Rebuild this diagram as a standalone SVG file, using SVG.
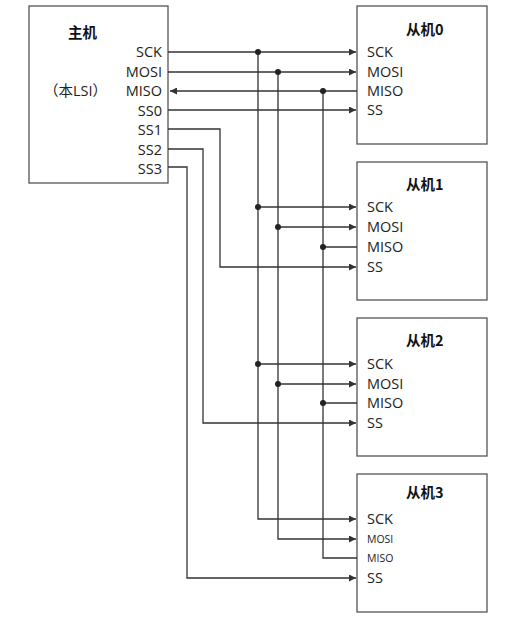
<svg xmlns="http://www.w3.org/2000/svg" width="511" height="622" viewBox="0 0 511 622">
<defs>
<marker id="ah" viewBox="0 0 10 10" refX="10" refY="5" markerWidth="8" markerHeight="7" markerUnits="userSpaceOnUse" orient="auto">
<path d="M0,0 L10,5 L0,10 z" fill="#333"/>
</marker>
</defs>
<style>
.box{fill:#fff;stroke:#555;stroke-width:1.3}
.t{font-family:"Open Sans","Noto Sans","Noto Sans CJK SC",sans-serif;font-size:14.5px;fill:#222}
.s{font-size:10.5px}
.ti{font-family:"Noto Sans CJK SC","Noto Sans",sans-serif;font-size:14.5px;font-weight:bold;fill:#111}
.w{fill:none;stroke:#333;stroke-width:1.3}
.d{fill:#222}
</style>
<rect width="511" height="622" fill="#fff"/>
<g id="master">
<rect class="box" x="29" y="6" width="139" height="177"/>
<text class="ti" x="68" y="38">主机</text>
<text class="t" x="44" y="96" font-family="Noto Sans CJK SC" font-size="14">（本LSI）</text>
<g class="t" text-anchor="end">
<text x="162" y="57">SCK</text>
<text x="162" y="77">MOSI</text>
<text x="162" y="96">MISO</text>
<text x="162" y="116">SS0</text>
<text x="162" y="135">SS1</text>
<text x="162" y="155">SS2</text>
<text x="162" y="174">SS3</text>
</g>
</g>
<g id="slave0">
<rect class="box" x="357" y="6" width="130" height="138"/>
<text class="ti" x="406" y="35">从机0</text>
<g class="t"><text x="367" y="57">SCK</text><text x="367" y="77">MOSI</text><text x="367" y="96">MISO</text><text x="367" y="115">SS</text></g>
</g>
<g id="slave1">
<rect class="box" x="357" y="162" width="130" height="138"/>
<text class="ti" x="406" y="190">从机1</text>
<g class="t"><text x="367" y="212">SCK</text><text x="367" y="232">MOSI</text><text x="367" y="252">MISO</text><text x="367" y="272">SS</text></g>
</g>
<g id="slave2">
<rect class="box" x="357" y="318" width="130" height="138"/>
<text class="ti" x="406" y="346">从机2</text>
<g class="t"><text x="367" y="369">SCK</text><text x="367" y="389">MOSI</text><text x="367" y="408">MISO</text><text x="367" y="428">SS</text></g>
</g>
<g id="slave3">
<rect class="box" x="357" y="474" width="130" height="138"/>
<text class="ti" x="406" y="498">从机3</text>
<g class="t"><text x="367" y="524">SCK</text><text class="s" x="367" y="543">MOSI</text><text class="s" x="367" y="562">MISO</text><text x="367" y="583">SS</text></g>
</g>
<g id="connectors">
<path class="w" d="M168,52 H356" marker-end="url(#ah)"/>
<path class="w" d="M168,72 H356" marker-end="url(#ah)"/>
<path class="w" d="M357,91 H170" marker-end="url(#ah)"/>
<path class="w" d="M168,110 H356" marker-end="url(#ah)"/>
<path class="w" d="M168,129 H220 V267 H356" marker-end="url(#ah)"/>
<path class="w" d="M168,149 H203 V423 H356" marker-end="url(#ah)"/>
<path class="w" d="M168,167 H187 V578 H356" marker-end="url(#ah)"/>
<path class="w" d="M258,52 V519 H356" marker-end="url(#ah)"/>
<path class="w" d="M278,72 V539 H356" marker-end="url(#ah)"/>
<path class="w" d="M323,91 V558 H357"/>
<path class="w" d="M258,207 H356" marker-end="url(#ah)"/>
<path class="w" d="M278,227 H356" marker-end="url(#ah)"/>
<path class="w" d="M323,247 H357"/>
<path class="w" d="M258,364 H356" marker-end="url(#ah)"/>
<path class="w" d="M278,384 H356" marker-end="url(#ah)"/>
<path class="w" d="M323,403 H357"/>
<circle class="d" cx="258" cy="52" r="3"/><circle class="d" cx="278" cy="72" r="3"/><circle class="d" cx="323" cy="91" r="3"/>
<circle class="d" cx="258" cy="207" r="3"/><circle class="d" cx="278" cy="227" r="3"/><circle class="d" cx="323" cy="247" r="3"/>
<circle class="d" cx="258" cy="364" r="3"/><circle class="d" cx="278" cy="384" r="3"/><circle class="d" cx="323" cy="403" r="3"/>
</g>
</svg>
